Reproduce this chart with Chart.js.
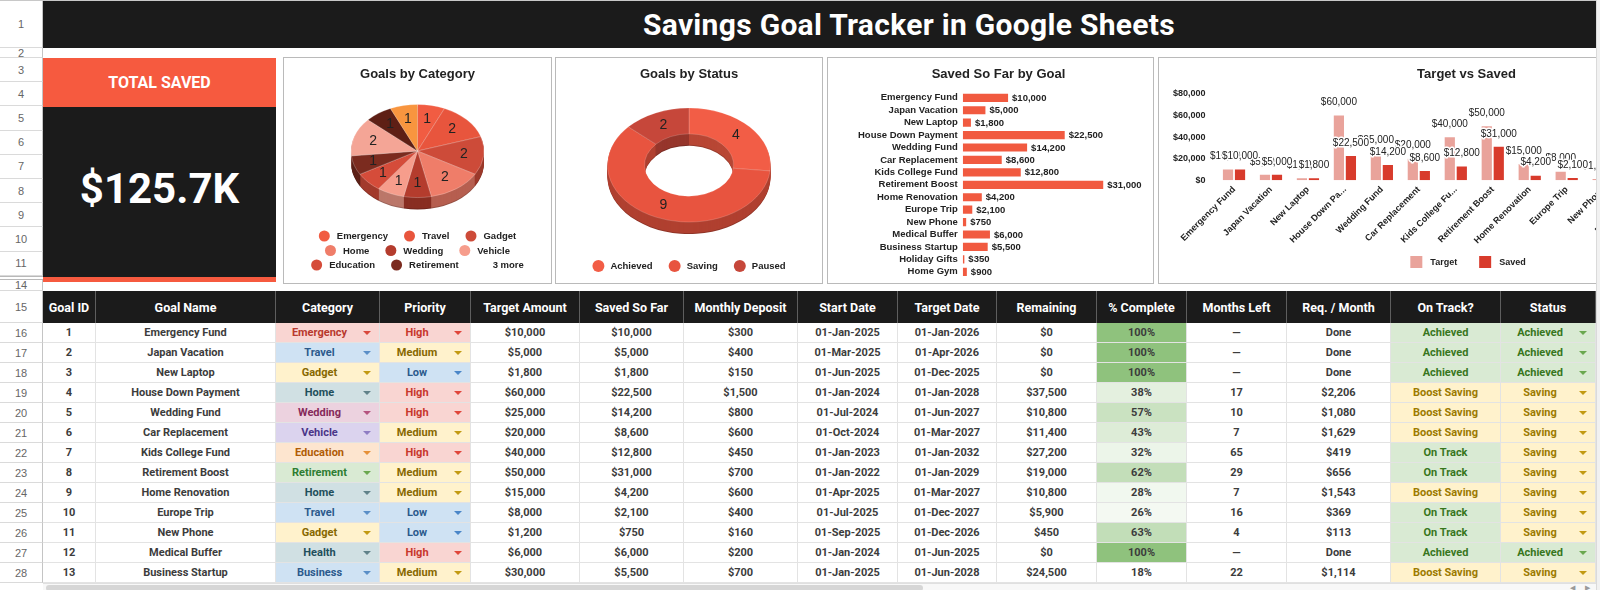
<!DOCTYPE html>
<html>
<head>
<meta charset="utf-8">
<title>Savings Goal Tracker</title>
<script src="https://cdn.jsdelivr.net/npm/chart.js@4.4.1/dist/chart.umd.min.js"></script>
<style>
  html, body { margin: 0; padding: 0; background: #fff; }
  body { width: 1600px; height: 590px; overflow: hidden; position: relative; font-family: Roboto, Arial, sans-serif; }
  #sheet { position: absolute; left: 0; top: 0; width: 1596px; height: 590px; overflow: hidden; background: #fff; border-top: 1px solid #c8c8c8; box-sizing: border-box; }
  #vscroll { position: absolute; left: 1596px; top: 0; width: 4px; height: 590px; background: #f1f1f1; border-left: 1px solid #dadada; box-sizing: border-box; }
  .rh { position: absolute; left: 0; width: 43px; box-sizing: border-box; border-right: 1px solid #c4c4c4; border-bottom: 1px solid #dadada; color: #666; font: 11px "Liberation Sans", Arial, sans-serif; display: flex; align-items: center; justify-content: center; overflow: hidden; background: #fff; }
  #titlebar { position: absolute; left: 43px; top: 0; width: 1732px; height: 47px; background: #1b1b1b; color: #fff; font: 700 30px Roboto, sans-serif; letter-spacing: .3px; display: flex; align-items: center; justify-content: center; }
  #kpiHead { position: absolute; left: 43px; top: 57px; width: 233px; height: 49px; background: #f65a3f; color: #fff; font: 700 16px Roboto, sans-serif; display: flex; align-items: center; justify-content: center; }
  #kpiBody { position: absolute; left: 43px; top: 106px; width: 233px; height: 170px; background: #1b1b1b; color: #fff; font: 700 42px Roboto, sans-serif; display: flex; align-items: center; justify-content: center; padding-bottom: 8px; box-sizing: border-box; }
  #kpiFoot { position: absolute; left: 43px; top: 276px; width: 233px; height: 5px; background: #f65a3f; }
  .hidden-rows { position: absolute; left: 0; width: 43px; height: 4px; top: 275px; border-top: 1px solid #b9b9b9; border-bottom: 1px solid #b9b9b9; box-sizing: border-box; }
  .panel { position: absolute; top: 56px; height: 227px; border: 1px solid #bababa; box-sizing: border-box; background: #fff; }
  .panel canvas { display: block; }
  .hcell { position: absolute; top: 290px; height: 32px; box-sizing: border-box; background: #1b1b1b; color: #fff; font: 700 12.5px Roboto, sans-serif; display: flex; align-items: center; justify-content: center; border-right: 1px solid #5e5e5e; white-space: nowrap; overflow: hidden; }
  .cell { position: absolute; height: 20px; box-sizing: border-box; color: #3c3c3c; font: 700 11px Roboto, sans-serif; display: flex; align-items: center; justify-content: center; border-right: 1px solid #e3e3e3; border-bottom: 1px solid #e3e3e3; white-space: nowrap; overflow: hidden; }
  .cell.drop { padding-right: 16px; }
  .arrow { position: absolute; right: 8px; top: 8px; width: 0; height: 0; border-left: 4px solid transparent; border-right: 4px solid transparent; border-top: 4px solid #888; }
  #hscroll { position: absolute; left: 43px; top: 582px; width: 1553px; height: 8px; background: #f8f8f8; border-top: 1px solid #e0e0e0; box-sizing: border-box; }
  #thumb { position: absolute; left: 3px; top: 1px; width: 877px; height: 6px; border-radius: 3px; background: #d6d6d6; }
  .sarrow { position: absolute; top: 583px; font: 7px Arial, sans-serif; color: #9a9a9a; }
</style>
</head>
<body>
<div id="sheet">
  <div id="titlebar">Savings Goal Tracker in Google Sheets</div>
  <div id="kpiHead">TOTAL SAVED</div>
  <div id="kpiBody"></div>
  <div id="kpiFoot"></div>
  <div class="panel" style="left:283px;width:269px"><canvas id="cCategory" width="267" height="225"></canvas></div>
  <div class="panel" style="left:555px;width:268px"><canvas id="cStatus" width="266" height="225"></canvas></div>
  <div class="panel" style="left:827px;width:327px"><canvas id="cSaved" width="325" height="225"></canvas></div>
  <div class="panel" style="left:1158px;width:620px"><canvas id="cTarget" width="618" height="225"></canvas></div>
  <div id="table"></div>
  <div id="rows"></div>
  <div class="hidden-rows"></div>
  <div id="hscroll"><div id="thumb"></div></div>
  <span class="sarrow" style="left:1570px">&#9664;</span>
  <span class="sarrow" style="left:1585px">&#9654;</span>
</div>
<div id="vscroll"></div>

<script>
// sheet data
const GOAL_NAMES = ['Emergency Fund', 'Japan Vacation', 'New Laptop', 'House Down Payment', 'Wedding Fund',
  'Car Replacement', 'Kids College Fund', 'Retirement Boost', 'Home Renovation', 'Europe Trip',
  'New Phone', 'Medical Buffer', 'Business Startup', 'Holiday Gifts', 'Home Gym']
const GOAL_CATEGORY = ['Emergency', 'Travel', 'Gadget', 'Home', 'Wedding', 'Vehicle', 'Education', 'Retirement',
  'Home', 'Travel', 'Gadget', 'Health', 'Business', 'Lifestyle', 'Health']
const GOAL_PRIORITY = ['High', 'Medium', 'Low', 'High', 'High', 'Medium', 'High', 'Medium', 'Medium', 'Low', 'Low', 'High', 'Medium']
const TARGET_AMOUNT = [10000, 5000, 1800, 60000, 25000, 20000, 40000, 50000, 15000, 8000, 1200, 6000, 30000, 1500, 2500]
const SAVED_SO_FAR = [10000, 5000, 1800, 22500, 14200, 8600, 12800, 31000, 4200, 2100, 750, 6000, 5500, 350, 900]
const MONTHLY_DEPOSIT = [300, 400, 150, 1500, 800, 600, 450, 700, 600, 400, 160, 200, 700]
const START_DATE = ['01-Jan-2025', '01-Mar-2025', '01-Jun-2025', '01-Jan-2024', '01-Jul-2024', '01-Oct-2024', '01-Jan-2023',
  '01-Jan-2022', '01-Apr-2025', '01-Jul-2025', '01-Sep-2025', '01-Jan-2024', '01-Jan-2025']
const TARGET_DATE = ['01-Jan-2026', '01-Apr-2026', '01-Dec-2025', '01-Jan-2028', '01-Jun-2027', '01-Mar-2027', '01-Jan-2032',
  '01-Jan-2029', '01-Mar-2027', '01-Dec-2027', '01-Dec-2026', '01-Jun-2025', '01-Jun-2028']
const REMAINING = [0, 0, 0, 37500, 10800, 11400, 27200, 19000, 10800, 5900, 450, 0, 24500]
const PCT_COMPLETE = [100, 100, 100, 38, 57, 43, 32, 62, 28, 26, 63, 100, 18]
const MONTHS_LEFT = ['—', '—', '—', 17, 10, 7, 65, 29, 7, 16, 4, '—', 22]
const REQ_PER_MONTH = ['Done', 'Done', 'Done', 2206, 1080, 1629, 419, 656, 1543, 369, 113, 'Done', 1114]
const ON_TRACK = ['Achieved', 'Achieved', 'Achieved', 'Boost Saving', 'Boost Saving', 'Boost Saving', 'On Track',
  'On Track', 'Boost Saving', 'On Track', 'On Track', 'Achieved', 'Boost Saving']
const GOAL_STATUS = ['Achieved', 'Achieved', 'Achieved', 'Saving', 'Saving', 'Saving', 'Saving', 'Saving', 'Saving',
  'Saving', 'Saving', 'Achieved', 'Saving']

const TABLE_HEADERS = ['Goal ID', 'Goal Name', 'Category', 'Priority', 'Target Amount', 'Saved So Far', 'Monthly Deposit',
  'Start Date', 'Target Date', 'Remaining', '% Complete', 'Months Left', 'Req. / Month', 'On Track?', 'Status']

const CATEGORY_LABELS = ['Emergency', 'Travel', 'Gadget', 'Home', 'Wedding', 'Vehicle', 'Education', 'Retirement', 'Health', 'Business', 'Lifestyle']
const CATEGORY_COUNTS = [1, 2, 2, 2, 1, 1, 1, 1, 2, 1, 1]
const STATUS_LABELS = ['Achieved', 'Saving', 'Paused']
const STATUS_COUNTS = [4, 9, 2]
const VALUE_TICKS = [0, 20000, 40000, 60000, 80000]

// colours
const CATEGORY_COLORS = ['#f15c42', '#e8553d', '#cd4b39', '#ef7d69', '#b43c2d', '#f69d8c', '#d54c3a', '#7b2b1f', '#f4a596', '#5e1f15', '#f8953f']
const STATUS_COLORS = ['#f25d46', '#e8543f', '#c6473a']
const CHIP = {
  Emergency: ['#f9d5d2', '#b8392e', '#d9483c'],
  Travel: ['#cfe2f3', '#2c5a8c', '#5b8fc7'],
  Gadget: ['#fff2cc', '#876800', '#c29a12'],
  Home: ['#d0e0e3', '#1f4f5c', '#60828a'],
  Wedding: ['#ecd2df', '#862a5a', '#b5537f'],
  Vehicle: ['#dbd3ee', '#4a3588', '#8e7cc3'],
  Education: ['#fde5cf', '#b05c06', '#e69138'],
  Retirement: ['#d9ead3', '#2e7d32', '#6aa84f'],
  Health: ['#d0e0e3', '#1f4f5c', '#60828a'],
  Business: ['#cfe2f3', '#2c5a8c', '#5b8fc7'],
  High: ['#f9d5d2', '#c8372c', '#e0453a'],
  Medium: ['#fff2cc', '#876800', '#c29a12'],
  Low: ['#cfe2f3', '#2c5a8c', '#4a86c8'],
}
const TRACK = {
  'Achieved': ['#d9ead3', '#38761d', '#6aa84f'],
  'On Track': ['#d9ead3', '#38761d', '#6aa84f'],
  'Boost Saving': ['#fff2cc', '#9c7a00', '#c29a12'],
  'Saving': ['#fff2cc', '#9c7a00', '#c29a12'],
}

const FONT = '"Liberation Sans", Arial, sans-serif'
Chart.defaults.font.family = FONT
Chart.defaults.color = '#222'

const money = v => '$' + Number(v).toLocaleString('en-US')

// ---------- sheet chrome ----------
document.getElementById('kpiBody').textContent = '$' + (SAVED_SO_FAR.reduce((s, v) => s + v, 0) / 1000).toFixed(1) + 'K'

const rowsEl = document.getElementById('rows')
const rowSpecs = [['1', 0, 47], ['2', 47, 10]]
for (let n = 3; n <= 11; n++) rowSpecs.push([String(n), 57 + (n - 3) * 24.2, 24.2])
rowSpecs.push(['14', 279, 11], ['15', 290, 32])
for (let n = 16; n <= 28; n++) rowSpecs.push([String(n), 322 + (n - 16) * 20, 20])
rowSpecs.forEach(([label, top, h]) => {
  const d = document.createElement('div')
  d.className = 'rh'
  d.style.top = top + 'px'
  d.style.height = h + 'px'
  d.textContent = label
  rowsEl.appendChild(d)
})

const COL_EDGES = [43, 96, 276, 380, 471, 580, 684, 798, 898, 997, 1097, 1187, 1287, 1391, 1501, 1596]
const tableEl = document.getElementById('table')

function mix(a, b, t) {
  const pa = [1, 3, 5].map(i => parseInt(a.substr(i, 2), 16))
  const pb = [1, 3, 5].map(i => parseInt(b.substr(i, 2), 16))
  return 'rgb(' + pa.map((v, i) => Math.round(v + (pb[i] - v) * t)).join(',') + ')'
}

function addCell(col, top, text, cls, style) {
  const d = document.createElement('div')
  d.className = cls
  d.style.left = COL_EDGES[col] + 'px'
  d.style.top = top + 'px'
  d.style.width = (COL_EDGES[col + 1] - COL_EDGES[col]) + 'px'
  d.textContent = text
  if (style) {
    d.style.background = style[0]
    d.style.color = style[1]
    if (style.drop) {
      d.classList.add('drop')
      const a = document.createElement('span')
      a.className = 'arrow'
      a.style.borderTopColor = style[2]
      d.appendChild(a)
    }
  }
  tableEl.appendChild(d)
}

TABLE_HEADERS.forEach((h, c) => addCell(c, 290, h, 'hcell'))

const pMin = Math.min(...PCT_COMPLETE), pMax = Math.max(...PCT_COMPLETE)
for (let r = 0; r < PCT_COMPLETE.length; r++) {
  const top = 322 + r * 20
  const drop = s => Object.assign([...s], { drop: true })
  const req = REQ_PER_MONTH[r]
  const pctBg = mix('#ffffff', '#8fc27d', (PCT_COMPLETE[r] - pMin) / (pMax - pMin))
  const cells = [
    [String(r + 1)],
    [GOAL_NAMES[r]],
    [GOAL_CATEGORY[r], drop(CHIP[GOAL_CATEGORY[r]])],
    [GOAL_PRIORITY[r], drop(CHIP[GOAL_PRIORITY[r]])],
    [money(TARGET_AMOUNT[r])],
    [money(SAVED_SO_FAR[r])],
    [money(MONTHLY_DEPOSIT[r])],
    [START_DATE[r]],
    [TARGET_DATE[r]],
    [money(REMAINING[r])],
    [PCT_COMPLETE[r] + '%', [pctBg, '#3c3c3c']],
    [String(MONTHS_LEFT[r])],
    [typeof req === 'number' ? money(req) : req],
    [ON_TRACK[r], TRACK[ON_TRACK[r]]],
    [GOAL_STATUS[r], drop(TRACK[GOAL_STATUS[r]])],
  ]
  cells.forEach(([t, s], c) => addCell(c, top, t, 'cell', s))
}

// ---------- chart helpers ----------
function shade(hex, f) {
  const n = parseInt(hex.slice(1), 16)
  return `rgb(${Math.round(((n >> 16) & 255) * f)},${Math.round(((n >> 8) & 255) * f)},${Math.round((n & 255) * f)})`
}

function slicePath(ctx, a) {
  ctx.beginPath()
  ctx.arc(a.x, a.y, a.outerRadius, a.startAngle, a.endAngle)
  if (a.innerRadius > 0) ctx.arc(a.x, a.y, a.innerRadius, a.endAngle, a.startAngle, true)
  else ctx.lineTo(a.x, a.y)
  ctx.closePath()
}

function tilt(ctx, cx, cy, ty, k) {
  ctx.translate(cx, ty)
  ctx.scale(1, k)
  ctx.translate(-cx, -cy)
}

// tilted pie with a darker extruded side, like the sheet's 3D pie
const pie3d = {
  id: 'pie3d',
  beforeDatasetsDraw(chart, args, o) {
    const ctx = chart.ctx
    const arcs = chart.getDatasetMeta(0).data
    const colors = chart.data.datasets[0].backgroundColor
    const { x, y } = arcs[0]
    for (let d = o.depth; d > 0; d--) {
      ctx.save()
      tilt(ctx, x, y, o.cy + d, o.tilt)
      arcs.forEach((a, i) => {
        slicePath(ctx, a)
        ctx.fillStyle = shade(colors[i], d === o.depth ? 0.62 : 0.76)
        ctx.fill()
      })
      ctx.restore()
    }
    ctx.save()
    tilt(ctx, x, y, o.cy, o.tilt)
  },
  afterDatasetsDraw(chart, args, o) {
    const ctx = chart.ctx
    ctx.restore()
    const meta = chart.getDatasetMeta(0)
    const values = chart.data.datasets[0].data
    ctx.save()
    ctx.font = o.font
    ctx.fillStyle = '#222'
    ctx.textAlign = 'center'
    ctx.textBaseline = 'middle'
    meta.data.forEach((a, i) => {
      const mid = (a.startAngle + a.endAngle) / 2
      const r = a.innerRadius > 0 ? (a.innerRadius + a.outerRadius) / 2 : a.outerRadius * 0.7
      ctx.fillText(values[i], a.x + Math.cos(mid) * r, o.cy + Math.sin(mid) * r * o.tilt)
    })
    ctx.restore()
  },
}

// Google-style legend: centred rows, optional "n more"
const flowLegend = {
  id: 'flowLegend',
  afterDraw(chart, args, o) {
    const ctx = chart.ctx
    const ds = chart.data.datasets
    let items = chart.config.type === 'bar'
      ? ds.map(d => ({ text: d.label, color: d.backgroundColor }))
      : chart.data.labels.map((t, i) => ({ text: t, color: ds[0].backgroundColor[i] }))
    if (o.max && items.length > o.max) {
      const extra = items.length - o.max
      items = items.slice(0, o.max).concat({ text: extra + ' more', color: null })
    }
    ctx.save()
    ctx.font = o.font
    ctx.textBaseline = 'middle'
    ctx.textAlign = 'left'
    const perRow = o.perRow || items.length
    for (let r = 0; r * perRow < items.length; r++) {
      const row = items.slice(r * perRow, (r + 1) * perRow)
      const w = row.map(it => o.textOffset + ctx.measureText(it.text).width)
      const total = w.reduce((s, v) => s + v, 0) + o.gap * (row.length - 1)
      let x = (chart.width - total) / 2
      const y = o.top + r * (o.rowHeight || 0)
      row.forEach((it, i) => {
        if (it.color) {
          ctx.fillStyle = it.color
          if (o.marker === 'rect') {
            ctx.fillRect(x, y - o.size / 2, o.size, o.size)
          } else {
            ctx.beginPath()
            ctx.arc(x + o.size / 2, y, o.size / 2, 0, Math.PI * 2)
            ctx.fill()
          }
        }
        ctx.fillStyle = '#222'
        ctx.fillText(it.text, x + o.textOffset, y + 0.5)
        x += w[i] + o.gap
      })
    }
    ctx.restore()
  },
}

// value labels next to / above bars
const barValues = {
  id: 'barValues',
  afterDatasetsDraw(chart, args, o) {
    const ctx = chart.ctx
    const horizontal = chart.options.indexAxis === 'y'
    ctx.save()
    ctx.font = o.font
    ctx.lineJoin = 'round'
    chart.data.datasets.forEach((ds, di) => {
      chart.getDatasetMeta(di).data.forEach((bar, i) => {
        const txt = money(ds.data[i])
        if (horizontal) {
          ctx.textAlign = 'left'
          ctx.textBaseline = 'middle'
          ctx.fillStyle = o.color
          ctx.fillText(txt, bar.x + o.offset, bar.y + 0.5)
        } else {
          ctx.textAlign = 'center'
          ctx.textBaseline = 'bottom'
          ctx.strokeStyle = '#fff'
          ctx.lineWidth = 3
          ctx.strokeText(txt, bar.x, bar.y - o.offset)
          ctx.fillStyle = o.color
          ctx.fillText(txt, bar.x, bar.y - o.offset)
        }
      })
    })
    ctx.restore()
  },
}

// long axis names get cut with "..." (width in ems, measured off the digit width)
const measureCtx = document.createElement('canvas').getContext('2d')
function fitLabel(text, font, maxChars, maxEm) {
  if (text.length <= maxChars) return text
  measureCtx.font = font
  const em = measureCtx.measureText('0').width / 0.556
  let t = text
  while (t.length && measureCtx.measureText(t + '...').width > maxEm * em) t = t.slice(0, -1)
  return t + '...'
}

const titleOpts = (text, bottom) => ({
  display: true, text, color: '#222',
  font: { size: 13, weight: 'bold' },
  padding: { top: 9, bottom },
})

const LEGEND_FONT = 'bold 9.5px ' + FONT

// ---------- Goals by Category ----------
new Chart(document.getElementById('cCategory'), {
  type: 'pie',
  data: {
    labels: CATEGORY_LABELS,
    datasets: [{
      data: CATEGORY_COUNTS,
      backgroundColor: CATEGORY_COLORS,
      borderColor: 'rgba(255,255,255,0.35)',
      borderWidth: 0.8,
      clip: false,
    }],
  },
  options: {
    responsive: false,
    animation: false,
    events: [],
    radius: 66.5,
    layout: { padding: { bottom: 60 } },
    plugins: {
      title: titleOpts('Goals by Category', 8),
      legend: { display: false },
      tooltip: { enabled: false },
      pie3d: { tilt: 0.70, depth: 12, cy: 93, font: '14px ' + FONT },
      flowLegend: { font: LEGEND_FONT, top: 178, rowHeight: 14.5, perRow: 3, max: 8, size: 11, textOffset: 18, gap: 16 },
    },
  },
  plugins: [pie3d, flowLegend],
})

// ---------- Goals by Status ----------
new Chart(document.getElementById('cStatus'), {
  type: 'doughnut',
  data: {
    labels: STATUS_LABELS,
    datasets: [{
      data: STATUS_COUNTS,
      backgroundColor: STATUS_COLORS,
      borderColor: 'rgba(255,255,255,0.25)',
      borderWidth: 0.8,
      clip: false,
    }],
  },
  options: {
    responsive: false,
    animation: false,
    events: [],
    radius: 81.5,
    cutout: '54.6%',
    layout: { padding: { bottom: 30 } },
    plugins: {
      title: titleOpts('Goals by Status', 8),
      legend: { display: false },
      tooltip: { enabled: false },
      pie3d: { tilt: 0.70, depth: 12, cy: 107, font: '14px ' + FONT },
      flowLegend: { font: LEGEND_FONT, top: 208, size: 12, textOffset: 18, gap: 16 },
    },
  },
  plugins: [pie3d, flowLegend],
})

// ---------- Saved So Far by Goal ----------
new Chart(document.getElementById('cSaved'), {
  type: 'bar',
  data: {
    labels: GOAL_NAMES,
    datasets: [{
      label: 'Saved So Far',
      data: SAVED_SO_FAR,
      backgroundColor: '#f15a40',
      categoryPercentage: 1,
      barPercentage: 0.66,
    }],
  },
  options: {
    indexAxis: 'y',
    responsive: false,
    animation: false,
    events: [],
    layout: { padding: { left: 25, right: 9, bottom: 5 } },
    scales: {
      x: { display: false, min: 0, max: 40000 },
      y: {
        grid: { display: false, drawTicks: false },
        border: { display: false },
        ticks: { font: { size: 9.5, weight: 'bold' }, color: '#222', padding: 5, autoSkip: false },
        // rows are offset from the edges already, so no extra label room is needed
        afterFit: scale => { scale.paddingTop = 0; scale.paddingBottom = 0 },
      },
    },
    plugins: {
      title: titleOpts('Saved So Far by Goal', 9),
      legend: { display: false },
      tooltip: { enabled: false },
      barValues: { font: 'bold 9.5px ' + FONT, color: '#222', offset: 4 },
    },
  },
  plugins: [barValues],
})

// ---------- Target vs Saved ----------
const tickFont = 'bold 9px ' + FONT
new Chart(document.getElementById('cTarget'), {
  type: 'bar',
  data: {
    labels: GOAL_NAMES,
    datasets: [
      { label: 'Target', data: TARGET_AMOUNT, backgroundColor: '#e9a39b' },
      { label: 'Saved', data: SAVED_SO_FAR, backgroundColor: '#d83b2c' },
    ],
  },
  options: {
    responsive: false,
    animation: false,
    events: [],
    datasets: { bar: { categoryPercentage: 0.65, barPercentage: 0.85 } },
    layout: { padding: { left: 4, right: 7, bottom: 33 } },
    scales: {
      x: {
        grid: { display: false, drawTicks: false },
        border: { display: false },
        ticks: {
          minRotation: 45, maxRotation: 45, autoSkip: false, padding: 4,
          font: { size: 9, weight: 'bold' }, color: '#222',
          callback: (v, i) => fitLabel(GOAL_NAMES[i], tickFont, 16, 8.85),
        },
      },
      y: {
        min: VALUE_TICKS[0],
        max: VALUE_TICKS[VALUE_TICKS.length - 1],
        grid: { display: false, drawTicks: false },
        border: { display: false },
        ticks: { stepSize: VALUE_TICKS[1] - VALUE_TICKS[0], font: { size: 9, weight: 'bold' }, color: '#222', padding: 10, callback: v => money(v) },
      },
    },
    plugins: {
      title: titleOpts('Target vs Saved', 11.4),
      legend: { display: false },
      tooltip: { enabled: false },
      barValues: { font: '10px ' + FONT, color: '#222', offset: 8 },
      flowLegend: { font: 'bold 9px ' + FONT, top: 204, marker: 'rect', size: 12, textOffset: 20, gap: 22 },
    },
  },
  plugins: [barValues, flowLegend],
})
</script>
</body>
</html>
